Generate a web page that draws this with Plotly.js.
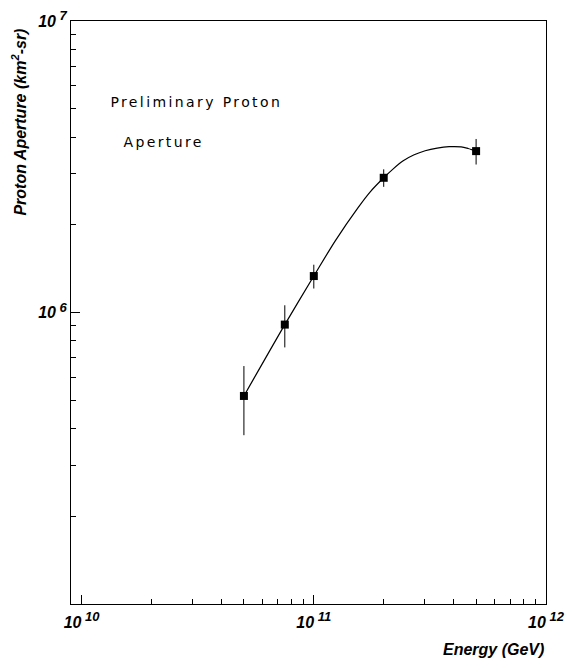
<!DOCTYPE html>
<html><head><meta charset="utf-8">
<script src="https://cdn.plot.ly/plotly-3.0.1.min.js"></script>
<style>html,body{margin:0;padding:0;background:#fff}</style>
</head><body><div id="chart" style="width:572px;height:658px"></div>
<script>
// Measured points (Energy in GeV, aperture in km^2-sr)
const energy = [5e10, 7.5e10, 1e11, 2e11, 5e11];
const aperture = [5.18e5, 9.1e5, 1.335e6, 2.90e6, 3.58e6];
const apertureErr = [1.38e5, 1.5e5, 1.25e5, 2.0e5, 3.6e5];
// Smooth fitted curve
const fitEnergy = [5e10, 7.5e10, 1e11, 1.237e11, 1.554e11, 1.750e11, 2e11, 2.198e11, 2.427e11, 2.706e11, 3.017e11, 3.398e11, 3.826e11, 4.309e11, 4.619e11, 5e11];
const fitAperture = [5.18e5, 9.1e5, 1.335e6, 1.763e6, 2.296e6, 2.596e6, 2.90e6, 3.112e6, 3.316e6, 3.477e6, 3.589e6, 3.666e6, 3.707e6, 3.701e6, 3.654e6, 3.58e6];
// Tick labels
const xTickVals = [1e10, 1e11, 1e12];
const xExponents = ['10', '11', '12'];
const yTickVals = [1e6, 1e7];
const yExponents = ['6', '7'];
const minorDigits = [2, 3, 4, 5, 6, 7, 8, 9];
const xMinorDecades = [1e10, 1e11];
const yMinorDecades = [1e5, 1e6];
const xTitle = 'Energy (GeV)';
const yTitle = 'Proton Aperture (km<sup>2</sup>-sr)';
const label1 = 'Preliminary Proton';
const label2 = 'Aperture';

function minorVals(decades) {
  const out = [];
  decades.forEach(d => minorDigits.forEach(m => out.push(d * m)));
  return out;
}
function powerText(exps) {
  return exps.map(e => '10<sup><span style="font-size:13px">\u00a0' + e + '</span></sup>');
}

const axisFont = {family: 'Liberation Sans, Arial, sans-serif', size: 16, weight: 'bold', style: 'italic', color: '#000'};

const traces = [
  {
    x: fitEnergy, y: fitAperture, type: 'scatter', mode: 'lines',
    line: {color: '#000', width: 1.2, shape: 'spline', smoothing: 0.8},
    hoverinfo: 'skip', showlegend: false
  },
  {
    x: energy, y: aperture, type: 'scatter', mode: 'markers',
    marker: {symbol: 'square', size: 8, color: '#000'},
    error_y: {type: 'data', array: apertureErr, visible: true, color: '#000', thickness: 1, width: 0},
    showlegend: false
  }
];

const layout = {
  width: 572, height: 658,
  margin: {l: 71, r: 26, t: 21, b: 54, pad: 0},
  paper_bgcolor: '#fff', plot_bgcolor: '#fff',
  showlegend: false,
  xaxis: {
    type: 'log', range: [Math.log10(9e9), 12],
    tickmode: 'array', tickvals: xTickVals, ticktext: powerText(xExponents),
    showgrid: false, zeroline: false,
    showline: true, linecolor: '#000', linewidth: 1, mirror: true,
    ticks: 'inside', ticklen: 9, tickcolor: '#000', tickwidth: 1,
    ticklabelstandoff: 4,
    minor: {ticks: 'inside', ticklen: 5, tickcolor: '#000', tickwidth: 1, tickmode: 'array', tickvals: minorVals(xMinorDecades), showgrid: false},
    tickfont: axisFont
  },
  yaxis: {
    type: 'log', range: [5.001, 7],
    tickmode: 'array', tickvals: yTickVals, ticktext: powerText(yExponents),
    showgrid: false, zeroline: false,
    showline: true, linecolor: '#000', linewidth: 1, mirror: true,
    ticks: 'inside', ticklen: 9, tickcolor: '#000', tickwidth: 1,
    minor: {ticks: 'inside', ticklen: 5, tickcolor: '#000', tickwidth: 1, tickmode: 'array', tickvals: minorVals(yMinorDecades), showgrid: false},
    tickfont: axisFont
  },
  annotations: [
    {text: yTitle, xref: 'paper', yref: 'paper', x: -0.109, y: 0.99, xanchor: 'center', yanchor: 'top',
     textangle: -90, showarrow: false, font: axisFont},
    {text: xTitle, xref: 'paper', yref: 'paper', x: 1, y: -0.078, xanchor: 'right', yanchor: 'middle',
     showarrow: false, font: axisFont},
    {text: label1, xref: 'paper', yref: 'paper', x: 0.124, y: 0.861, xanchor: 'left', yanchor: 'middle',
     showarrow: false, font: {family: 'DejaVu Sans', size: 14, color: '#000'}},
    {text: label2, xref: 'paper', yref: 'paper', x: 0.126, y: 0.793, xanchor: 'left', yanchor: 'middle',
     showarrow: false, font: {family: 'DejaVu Sans', size: 14, color: '#000'}}
  ]
};

Plotly.newPlot('chart', traces, layout, {displayModeBar: false, staticPlot: true}).then(function(gd) {
  gd.querySelectorAll('.annotation-text').forEach(function(el) {
    if (el.textContent === label1 || el.textContent === label2) {
      el.style.letterSpacing = '2.4px';
    }
  });
});
</script></body></html>
